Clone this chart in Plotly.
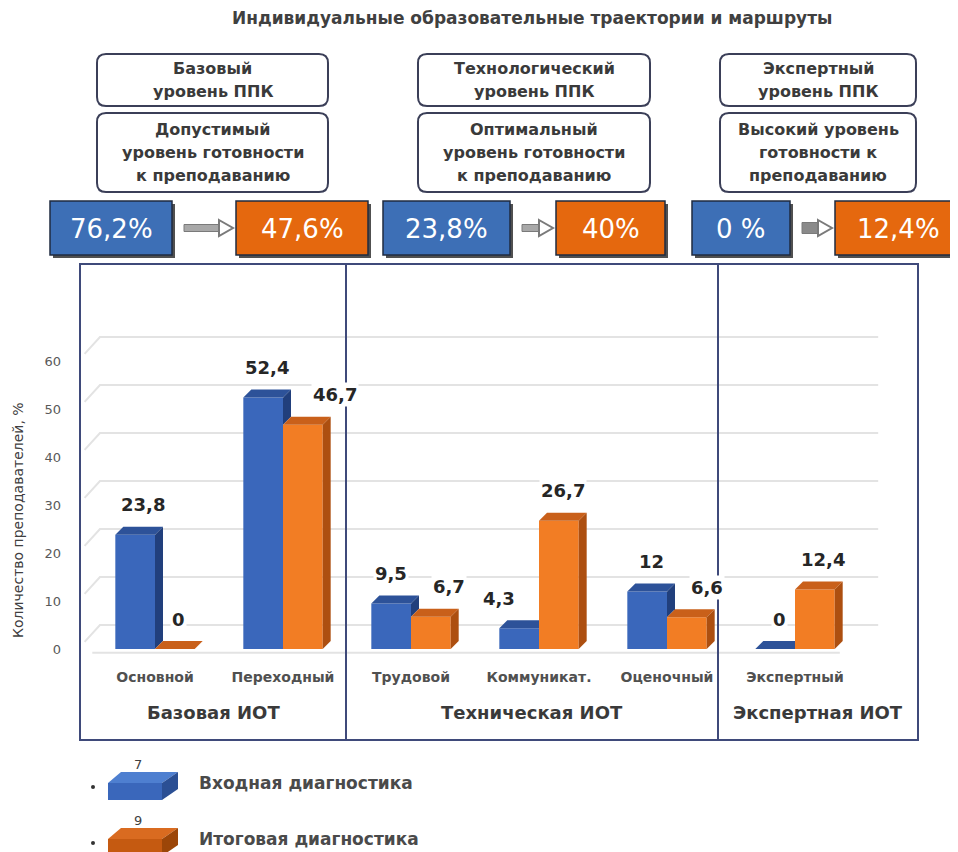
import plotly.graph_objects as go

# ---------------- data ----------------
categories = ["Основной", "Переходный", "Трудовой", "Коммуникат.", "Оценочный", "Экспертный"]
entry_diag = [23.8, 52.4, 9.5, 4.3, 12, 0]
final_diag = [0, 46.7, 6.7, 26.7, 6.6, 12.4]
series_names = ["Входная диагностика", "Итоговая диагностика"]
legend_marks = ["7", "9"]
groups = ["Базовая ИОТ", "Техническая ИОТ", "Экспертная ИОТ"]
levels = ["Базовый<br>уровень ППК", "Технологический<br>уровень ППК", "Экспертный<br>уровень ППК"]
readiness = ["Допустимый<br>уровень готовности<br>к преподаванию",
             "Оптимальный<br>уровень готовности<br>к преподаванию",
             "Высокий уровень<br>готовности к<br>преподаванию"]
level_before = ["76,2%", "23,8%", "0 %"]
level_after = ["47,6%", "40%", "12,4%"]
y_ticks = [0, 10, 20, 30, 40, 50, 60]
title = "Индивидуальные образовательные траектории и маршруты"
y_title = "Количество преподавателей, %"

# ---------------- styling: horizontal nudges of value labels (px) ----------------
entry_label_nudge = [4, 0, -4, -24, 0, 0]
final_label_nudge = [0, 28, 14, 0, 16, 4]

# ---------------- layout geometry (target page pixels) ----------------
OFF = 8                      # page body margin
W, H = 958 - OFF, 852 - OFF
L, R, T, B = 80, 918, 264, 740
ZERO_PX = 649
FONT = "DejaVu Sans"


def px(x):
    return (x - L) / (R - L)


def py(y):
    return (B - y) / (B - T)


def rrect_path(x0, y0, x1, y1, r):
    pts = [("M", x0 + r, y0), ("L", x1 - r, y0), ("Q", x1, y0, x1, y0 + r),
           ("L", x1, y1 - r), ("Q", x1, y1, x1 - r, y1), ("L", x0 + r, y1),
           ("Q", x0, y1, x0, y1 - r), ("L", x0, y0 + r), ("Q", x0, y0, x0 + r, y0)]
    s = ""
    for p in pts:
        coords = p[1:]
        parts = [f"{px(coords[k]):.5f},{py(coords[k+1]):.5f}" for k in range(0, len(coords), 2)]
        s += p[0] + " " + " ".join(parts) + " "
    return s + "Z"


def poly_path(points):
    return "M " + " L ".join(f"{px(a):.5f},{py(b):.5f}" for a, b in points) + " Z"


def fmt(v):
    return f"{v:g}".replace(".", ",")


def text_ann(x, y, text, size, color="#333333", bold=False, **kw):
    d = dict(x=px(x), y=py(y), xref="paper", yref="paper", text=text, showarrow=False,
             xanchor="center", yanchor="middle",
             font=dict(family=FONT, size=size, color=color, weight="bold" if bold else "normal"))
    d.update(kw)
    return d


BLUE = "#3a67bb"
BLUE_TOP = "#2d5299"
BLUE_SIDE = "#213f7c"
ORANGE = "#f27d24"
ORANGE_TOP = "#c9601a"
ORANGE_SIDE = "#ad4f10"

fig = go.Figure()

n = len(categories)
xs = list(range(n))
bw = 0.31
x_unit = 128.0       # px per category
y_unit = 4.8         # px per value unit
dxu = 8 / x_unit
dyu = 8 / y_unit

# front faces
fig.add_trace(go.Bar(x=xs, y=entry_diag, width=bw, offset=-bw, marker_color=BLUE,
                     marker_line_width=0, name=series_names[0], showlegend=False))
fig.add_trace(go.Bar(x=xs, y=final_diag, width=bw, offset=0, marker_color=ORANGE,
                     marker_line_width=0, name=series_names[1], showlegend=False))


def add_poly(points, color):
    fig.add_trace(go.Scatter(x=[p[0] for p in points], y=[p[1] for p in points],
                             fill="toself", fillcolor=color, mode="lines",
                             line=dict(width=0, color=color), hoverinfo="skip",
                             showlegend=False))


for c, vb, vo in zip(xs, entry_diag, final_diag):
    if vb >= vo:
        add_poly([(c - bw, vb), (c, vb), (c + dxu, vb + dyu), (c - bw + dxu, vb + dyu)], BLUE_TOP)
    else:
        add_poly([(c - bw, vb), (c, vb), (c, vb + dyu), (c - bw + dxu, vb + dyu)], BLUE_TOP)
    if vb > vo:
        add_poly([(c, vo), (c, vb), (c + dxu, vb + dyu), (c + dxu, vo + dyu)], BLUE_SIDE)
    add_poly([(c, vo), (c + bw, vo), (c + bw + dxu, vo + dyu), (c + dxu, vo + dyu)], ORANGE_TOP)
    add_poly([(c + bw, 0), (c + bw, vo), (c + bw + dxu, vo + dyu), (c + bw + dxu, dyu)], ORANGE_SIDE)

shapes = []
annotations = []

# gridlines (back wall, perspective)
for t in y_ticks:
    g = t + 5
    shapes.append(dict(type="path", xref="x", yref="y", layer="below",
                       path=f"M {-0.55},{g-3.5} L {-0.43},{g} L 5.65,{g}",
                       line=dict(color="#e3e3e3", width=2)))
shapes.append(dict(type="line", xref="x", yref="y", layer="below", x0=-0.49, x1=5.35,
                   y0=-0.8, y1=-0.8, line=dict(color="#e3e3e3", width=2)))

# frame and dividers
shapes.append(dict(type="rect", xref="paper", yref="paper", x0=0, y0=0, x1=1, y1=1,
                   line=dict(color="#3f4a7a", width=2)))
for dx in (346, 718):
    shapes.append(dict(type="line", xref="paper", yref="paper", x0=px(dx), x1=px(dx),
                       y0=0, y1=1, line=dict(color="#3f4a7a", width=2)))

# data labels
for c, vb, vo, nb, no in zip(xs, entry_diag, final_diag, entry_label_nudge, final_label_nudge):
    for xv, v, nud in ((c - bw / 2 + dxu / 2, vb, nb), (c + bw / 2 + dxu / 2, vo, no)):
        annotations.append(dict(x=xv, y=v + dyu, xref="x", yref="y", text=fmt(v),
                                showarrow=False, yshift=22, xshift=nud, bgcolor="white",
                                xanchor="center", yanchor="middle",
                                font=dict(family=FONT, size=18, color="#262626", weight="bold")))

# group labels
sections = [(80, 346), (346, 718), (718, 918)]
for gname, (s0, s1) in zip(groups, sections):
    annotations.append(text_ann((s0 + s1) / 2, 712, gname, 18, "#3a3a3a", True))

# top boxes
box_x = [(97, 328), (418, 650), (720, 916)]
for (x0, x1), lv, rd in zip(box_x, levels, readiness):
    for (y0, y1), txt in (((54, 106), lv), ((113, 192), rd)):
        shapes.append(dict(type="path", xref="paper", yref="paper",
                           path=rrect_path(x0, y0, x1, y1, 9),
                           line=dict(color="#3b3f58", width=2), fillcolor="white"))
        lines = txt.split("<br>")
        ymid = (y0 + y1) / 2
        for k, ln in enumerate(lines):
            yy = ymid + (k - (len(lines) - 1) / 2) * 23
            annotations.append(text_ann((x0 + x1) / 2, yy, ln, 16, "#3a3a3a", True))

# coloured percentage boxes and arrows
before_x = [(50, 172), (383, 510), (692, 790)]
after_x = [(236, 368), (556, 665), (835, 962)]
cy0, cy1 = 201, 255
for i, ((b0, b1), (a0, a1), tb, ta) in enumerate(zip(before_x, after_x, level_before, level_after)):
    for (x0, x1), col, txt in (((b0, b1), "#3d6fb6", tb), ((a0, a1), "#e5680e", ta)):
        shapes.append(dict(type="rect", xref="paper", yref="paper",
                           x0=px(x0 + 3), x1=px(x1 + 3), y0=py(cy1 + 3), y1=py(cy0 + 3),
                           fillcolor="#505050", line=dict(width=0)))
        shapes.append(dict(type="rect", xref="paper", yref="paper",
                           x0=px(x0), x1=px(x1), y0=py(cy1), y1=py(cy0),
                           fillcolor=col, line=dict(color="#1f2b40", width=1.5)))
        annotations.append(text_ann((x0 + x1) / 2, (cy0 + cy1) / 2 + 1, txt, 26, "white"))
    s0 = b1 + 12
    s1 = a0 - 17
    thick = 3.5 if i < 2 else 5.5
    scol = "#a8a8a8" if i < 2 else "#8a8a8a"
    shapes.append(dict(type="rect", xref="paper", yref="paper",
                       x0=px(s0), x1=px(s1), y0=py(228 + thick), y1=py(228 - thick),
                       fillcolor=scol, line=dict(color="#7a7a7a", width=1)))
    shapes.append(dict(type="path", xref="paper", yref="paper",
                       path=poly_path([(s1, 220), (a0 - 3, 228), (s1, 236)]),
                       fillcolor="white", line=dict(color="#7a7a7a", width=2)))

# title
annotations.append(text_ann(532, 18, title, 17, "#404040", True))

# y title
annotations.append(text_ann(18, 520, y_title, 14, "#404040", textangle=-90))

# legend
leg_cols = [(BLUE, "#4e7fd0", "#2b4f94"), ("#c55a11", "#d96b20", "#9c4608")]
for k, (name, mark, (cf, ct, cs)) in enumerate(zip(series_names, legend_marks, leg_cols)):
    oy = k * 56
    shapes.append(dict(type="path", xref="paper", yref="paper",
                       path=poly_path([(108, 783 + oy), (162, 783 + oy), (162, 800 + oy), (108, 800 + oy)]),
                       fillcolor=cf, line=dict(width=0)))
    shapes.append(dict(type="path", xref="paper", yref="paper",
                       path=poly_path([(108, 783 + oy), (121, 772 + oy), (178, 772 + oy), (162, 783 + oy)]),
                       fillcolor=ct, line=dict(width=0)))
    shapes.append(dict(type="path", xref="paper", yref="paper",
                       path=poly_path([(162, 783 + oy), (178, 772 + oy), (178, 789 + oy), (162, 800 + oy)]),
                       fillcolor=cs, line=dict(width=0)))
    shapes.append(dict(type="circle", xref="paper", yref="paper",
                       x0=px(91), x1=px(95), y0=py(789 + oy), y1=py(785 + oy),
                       fillcolor="#333333", line=dict(width=0)))
    annotations.append(text_ann(197, 783 + oy, name, 17, "#4a4a4a", True, xanchor="left"))
    annotations.append(text_ann(138, 764 + oy, mark, 13, "#404040"))

y_lo = -(B - ZERO_PX) / y_unit
y_hi = (ZERO_PX - T) / y_unit
x_lo = (L - 155) / x_unit
x_hi = (R - 155) / x_unit

fig.update_layout(
    width=W, height=H, autosize=False,
    margin=dict(l=L - OFF, r=W - (R - OFF), t=T - OFF, b=H - (B - OFF), pad=0),
    paper_bgcolor="white", plot_bgcolor="white",
    barmode="overlay", showlegend=False,
    shapes=shapes, annotations=annotations,
    xaxis=dict(range=[x_lo, x_hi], tickvals=xs, ticktext=categories, showgrid=False,
               zeroline=False, showline=False, anchor="free", position=py(667),
               tickfont=dict(family=FONT, size=14, color="#505050", weight="bold"),
               fixedrange=True),
    yaxis=dict(range=[y_lo, y_hi], tickvals=y_ticks, showgrid=False, zeroline=False,
               showline=False, tickfont=dict(family=FONT, size=13, color="#595959"),
               ticklabelstandoff=18, fixedrange=True),
)

fig.write_html("out.html")
